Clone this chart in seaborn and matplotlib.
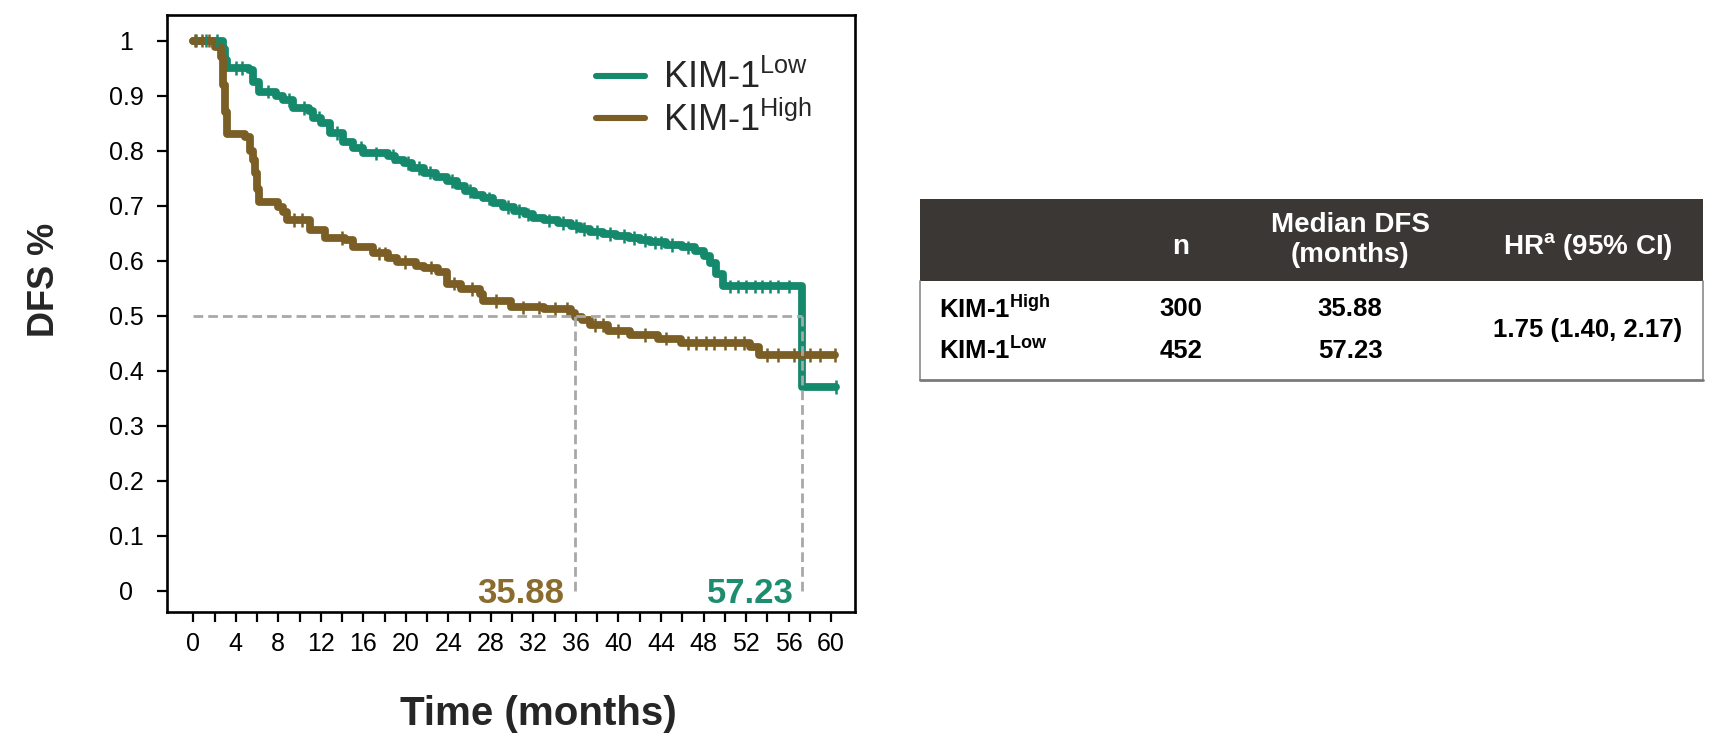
import numpy as np
import pandas as pd
import matplotlib
matplotlib.use("Agg")
import matplotlib.pyplot as plt
import seaborn as sns
from matplotlib.patches import Rectangle
from matplotlib.ticker import FixedLocator

# ---------------- data ----------------
low_time = [0, 2.8, 3.0, 3.2, 5.2, 5.6, 6.2, 7.8, 8.4, 9.4, 10.9, 11.3, 12.0, 12.9, 14.1, 15.0,
            16.0, 18.3, 19.0, 19.8, 20.6, 21.7, 22.8, 23.9, 24.8, 25.6, 26.4, 27.3, 28.2, 29.1,
            30.2, 31.2, 32.0, 33.0, 34.3, 35.5, 36.4, 37.3, 38.5, 39.8, 41.0, 42.0, 43.0, 44.5,
            46.0, 47.2, 48.0, 48.6, 49.2, 49.8, 57.23, 60.5]
low_surv = [1.0, 0.985, 0.965, 0.950, 0.946, 0.925, 0.907, 0.900, 0.892, 0.877, 0.872, 0.860,
            0.850, 0.832, 0.816, 0.805, 0.795, 0.790, 0.783, 0.777, 0.768, 0.760, 0.752, 0.745,
            0.735, 0.726, 0.719, 0.713, 0.705, 0.697, 0.690, 0.684, 0.678, 0.673, 0.668, 0.663,
            0.657, 0.652, 0.648, 0.645, 0.641, 0.637, 0.633, 0.628, 0.624, 0.618, 0.608, 0.595,
            0.575, 0.553, 0.370, 0.370]
high_time = [0, 2.0, 2.6, 2.8, 3.0, 3.2, 4.9, 5.3, 5.6, 5.8, 6.0, 6.2, 8.0, 8.4, 8.8, 11.0,
             12.4, 14.3, 15.0, 16.9, 18.3, 19.2, 21.0, 21.7, 23.0, 23.9, 25.2, 27.0, 27.3, 29.9,
             33.0, 35.5, 35.88, 36.6, 37.3, 39.0, 41.1, 43.7, 45.9, 52.4, 53.2, 60.4]
high_surv = [1.0, 0.989, 0.970, 0.920, 0.870, 0.831, 0.825, 0.800, 0.783, 0.760, 0.730, 0.707,
             0.698, 0.689, 0.674, 0.656, 0.641, 0.637, 0.625, 0.613, 0.605, 0.597, 0.590, 0.587,
             0.580, 0.558, 0.548, 0.540, 0.526, 0.515, 0.512, 0.505, 0.498, 0.492, 0.483, 0.472,
             0.465, 0.458, 0.450, 0.443, 0.428, 0.428]
low_censor = [0.3, 1.2, 2.2, 4.0, 4.6, 7.0, 9.0, 10.4, 11.8, 13.5, 15.8, 17.2, 18.8, 20.2, 21.2,
              22.3, 24.3, 26.0, 27.8, 29.6, 30.6, 31.5, 33.5, 34.8, 36.0, 36.8, 38.0, 39.2,
              40.5, 41.5, 42.5, 43.4, 44.0, 45.0, 46.5, 50.5, 51.2, 52.0, 52.8, 53.5, 54.3,
              55.0, 56.0, 60.5]
high_censor = [0.2, 0.8, 1.5, 9.5, 10.2, 14.0, 17.5, 18.0, 19.9, 22.4, 24.5, 26.2, 28.5, 31.0,
               32.5, 34.0, 35.2, 37.8, 38.5, 40.0, 42.5, 44.5, 46.5, 47.3, 48.2, 49.0, 50.0,
               51.0, 51.8, 54.0, 55.0, 56.5, 58.0, 59.0, 60.4]
median_high = 35.88
median_low = 57.23
median_level = 0.5
group_labels = [r"KIM-1$^{\mathrm{Low}}$", r"KIM-1$^{\mathrm{High}}$"]
x_ticks = list(range(0, 61, 4))
x_minor = list(range(2, 61, 4))
y_ticks = [0, 0.1, 0.2, 0.3, 0.4, 0.5, 0.6, 0.7, 0.8, 0.9, 1.0]
y_tick_labels = ["0", "0.1", "0.2", "0.3", "0.4", "0.5", "0.6", "0.7", "0.8", "0.9", "1"]

table_headers = ["n", "Median DFS\n(months)", r"HR$^{\mathbf{a}}$ (95% CI)"]
table_rows = [r"KIM-1$^{\mathbf{High}}$", r"KIM-1$^{\mathbf{Low}}$"]
table_n = ["300", "452"]
table_median = ["35.88", "57.23"]
table_hr = "1.75 (1.40, 2.17)"

GREEN = "#15896c"
BROWN = "#7b5e25"
GREEN_TXT = "#1d8c6f"
BROWN_TXT = "#8a6c2f"
GRAY = "#a8a8a8"

# ---------------- style ----------------
sns.set_theme(style="white")
plt.rcParams["font.family"] = ["Liberation Sans", "DejaVu Sans"]
plt.rcParams["mathtext.fontset"] = "custom"
plt.rcParams["mathtext.rm"] = "Liberation Sans"
plt.rcParams["mathtext.bf"] = "Liberation Sans:bold"
plt.rcParams["mathtext.it"] = "Liberation Sans:italic"

W, H = 1718, 736
fig = plt.figure(figsize=(W / 100, H / 100), dpi=100)
ax = fig.add_axes([167 / W, 1 - 612 / H, (855 - 167) / W, (612 - 15) / H])

df = pd.concat([
    pd.DataFrame({"time": low_time, "surv": low_surv, "group": group_labels[0]}),
    pd.DataFrame({"time": high_time, "surv": high_surv, "group": group_labels[1]}),
], ignore_index=True)
palette = {group_labels[0]: GREEN, group_labels[1]: BROWN}

sns.lineplot(data=df, x="time", y="surv", hue="group", hue_order=group_labels,
             palette=palette, estimator=None, drawstyle="steps-post", linewidth=5.6,
             ax=ax, legend=True, zorder=2)


def step_at(times, survs, pts):
    times = np.asarray(times)
    survs = np.asarray(survs)
    idx = np.searchsorted(times, np.asarray(pts), side="right") - 1
    return survs[np.clip(idx, 0, len(survs) - 1)]


cdf = pd.concat([
    pd.DataFrame({"time": low_censor, "surv": step_at(low_time, low_surv, low_censor),
                  "group": group_labels[0]}),
    pd.DataFrame({"time": high_censor, "surv": step_at(high_time, high_surv, high_censor),
                  "group": group_labels[1]}),
], ignore_index=True)
sns.scatterplot(data=cdf, x="time", y="surv", hue="group", hue_order=group_labels,
                palette=palette, marker="|", s=95, linewidth=1.8, ax=ax, legend=False,
                zorder=2)

# median reference lines
dash_kw = dict(color=GRAY, lw=2.0, dashes=(3.5, 1.8), zorder=3)
ax.plot([0, median_low], [median_level, median_level], **dash_kw)
ax.plot([median_high, median_high], [0, median_level], **dash_kw)
ax.plot([median_low, median_low], [0, median_level], **dash_kw)

ax.text(median_high - 1.0, -0.006, f"{median_high:.2f}", ha="right", va="center",
        color=BROWN_TXT, fontsize=25, fontweight="bold")
ax.text(median_low - 0.7, -0.006, f"{median_low:.2f}", ha="right", va="center",
        color=GREEN_TXT, fontsize=25, fontweight="bold")

# axes
ax.set_xlim(-2.47, 62.25)
ax.set_ylim(-0.039, 1.0465)
ax.set_xticks(x_ticks)
ax.xaxis.set_minor_locator(FixedLocator(x_minor))
ax.set_yticks(y_ticks)
ax.set_yticklabels(y_tick_labels, ha="center")
ax.tick_params(which="both", direction="out", length=7.5, width=1.6, color="black",
               bottom=True, left=True, labelsize=18, labelcolor="black")
ax.tick_params(axis="x", pad=7)
ax.tick_params(axis="y", pad=22)
for sp in ax.spines.values():
    sp.set_visible(True)
    sp.set_color("black")
    sp.set_linewidth(1.9)
ax.set_xlabel("")
ax.set_ylabel("")

handles, labels = ax.get_legend_handles_labels()
leg = ax.legend(handles, labels, loc="upper left", bbox_to_anchor=(596 / W, 1 - 60 / H),
                bbox_transform=fig.transFigure, frameon=False, fontsize=26,
                handlelength=1.35, handletextpad=0.5, labelspacing=0.15, borderpad=0,
                borderaxespad=0)
for ln in leg.get_lines():
    ln.set_linewidth(4.4)

fig.text(538 / W, 1 - 714 / H, "Time (months)", ha="center", va="center", fontsize=29,
         fontweight="bold")
fig.text(45 / W, 1 - 280 / H, "DFS %", ha="center", va="center", rotation=90, fontsize=26,
         fontweight="bold")

# ---------------- table ----------------
tx0, tx1, ty0, tyh, ty1 = 920, 1703, 199, 281, 380
tax = fig.add_axes([tx0 / W, 1 - ty1 / H, (tx1 - tx0) / W, (ty1 - ty0) / H])
tax.set_xlim(tx0, tx1)
tax.set_ylim(ty1, ty0)
tax.axis("off")
tax.add_patch(Rectangle((tx0, ty0), tx1 - tx0, tyh - ty0, facecolor="#3b3735",
                        edgecolor="none"))
tax.plot([tx0, tx0], [tyh, ty1], color="#8a8a8a", lw=1.2, clip_on=False)
tax.plot([tx1, tx1], [tyh, ty1], color="#8a8a8a", lw=1.2, clip_on=False)
tax.plot([tx0, tx1], [ty1, ty1], color="#7a7a7a", lw=2.0, clip_on=False)

col_x = [1181, 1350, 1588]
hdr_y = [247, 240, 247]
for x, y, t in zip(col_x, hdr_y, table_headers):
    tax.text(x, y, t, ha="center", va="center", color="white", fontsize=20,
             fontweight="bold", linespacing=1.2)
row_y = [309, 351]
for y, lab, n, med in zip(row_y, table_rows, table_n, table_median):
    tax.text(939, y, lab, ha="left", va="center", fontsize=18.5, fontweight="bold",
             color="black")
    tax.text(col_x[0], y, n, ha="center", va="center", fontsize=18.5, fontweight="bold",
             color="black")
    tax.text(col_x[1], y, med, ha="center", va="center", fontsize=18.5, fontweight="bold",
             color="black")
tax.text(col_x[2], (row_y[0] + row_y[1]) / 2, table_hr, ha="center", va="center",
         fontsize=18.5, fontweight="bold", color="black")

fig.savefig("out.png", dpi=100)
